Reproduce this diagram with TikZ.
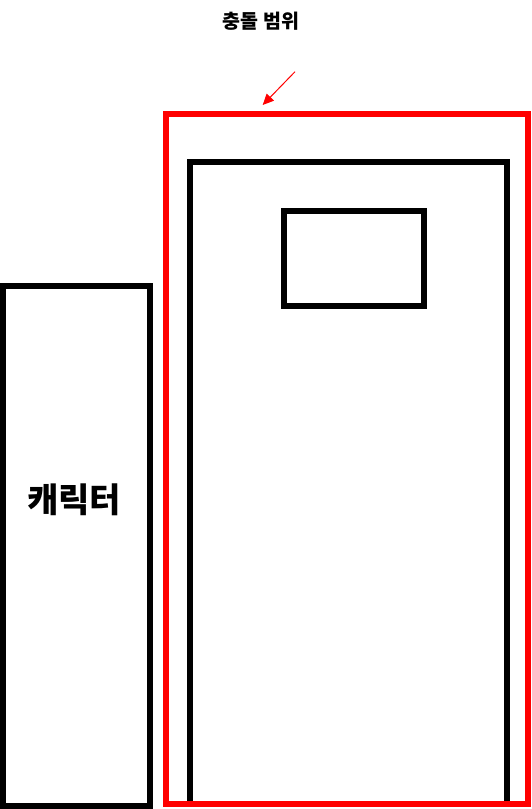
\documentclass[tikz,border=0pt]{standalone}
\usepackage{fontspec}
\newfontfamily\kr{Noto Sans CJK KR}
\usetikzlibrary{arrows.meta}
\begin{document}
\begin{tikzpicture}[x=1pt,y=-1pt,
  box/.style={draw=black,line width=6pt,minimum width=#1,inner sep=0pt,outer sep=0pt},
  redbox/.style={draw=red,line width=6pt,inner sep=0pt,outer sep=0pt},
  lbl/.style={font=\kr\bfseries,inner sep=0pt}]
\useasboundingbox (0,0) rectangle (531,809);
\node[box=147pt,minimum height=520pt] (char) at (76.5,546) {};
\node[lbl,font=\kr\bfseries\fontsize{34}{34}\selectfont] (charlbl) at (74,500) {캐릭터};
\node[box=317.3pt,minimum height=642pt] (door) at (348.35,483) {};
\node[box=140pt,minimum height=95pt] (window) at (354,258.5) {};
\node[redbox,minimum width=362.5pt,minimum height=690pt] (range) at (346.75,459) {};
\node[lbl,font=\kr\bfseries\fontsize{19.5}{19.5}\selectfont] (title) at (261,21) {충돌 범위};
\coordinate (astart) at (295,71.7);
\coordinate (aend) at (262.7,105);
\draw[red,line width=1pt,-{Triangle[length=11pt,width=10pt]}] (astart) -- (aend);
\end{tikzpicture}
\end{document}
